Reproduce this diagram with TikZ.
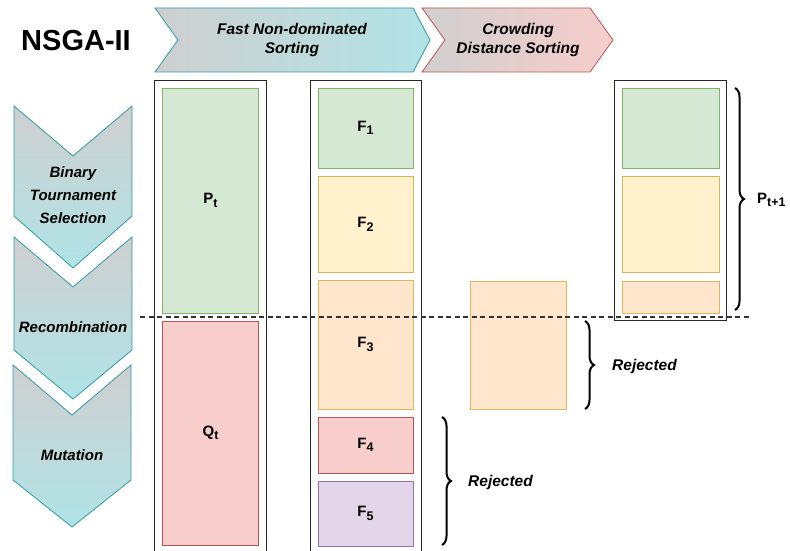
\documentclass[tikz,border=0pt]{standalone}
\usepackage{fontspec}
\setmainfont{Liberation Sans}
\usetikzlibrary{decorations.pathreplacing}
\definecolor{cgray}{HTML}{CFCFCF}
\definecolor{ccyan}{HTML}{B0E3E6}
\definecolor{cteal}{HTML}{2E9AA2}
\definecolor{cpink}{HTML}{F8CECC}
\definecolor{cred}{HTML}{B85450}
\definecolor{gfill}{HTML}{D5E8D4}
\definecolor{gline}{HTML}{82B366}
\definecolor{yfill}{HTML}{FFF2CC}
\definecolor{yline}{HTML}{D6B656}
\definecolor{ofill}{HTML}{FFE6CC}
\definecolor{oline}{HTML}{E3B55A}
\definecolor{rfill}{HTML}{F8CECC}
\definecolor{rline}{HTML}{B85450}
\definecolor{pfill}{HTML}{E1D5E7}
\definecolor{pline}{HTML}{9673A6}
\newcommand{\mysubscr}[1]{\raisebox{-3.5pt}{\fontsize{12.5}{12.5}\selectfont #1}}
\begin{document}
\begin{tikzpicture}[x=1pt,y=-1pt,
  chevlabel/.style={font=\fontsize{15.5}{19}\selectfont\bfseries\itshape, align=center, inner sep=0pt},
  hchevteal/.style={draw=cteal, line width=0.8pt, left color=cgray, right color=ccyan},
  hchevred/.style={draw=cred, line width=0.8pt, left color=cgray, right color=cpink},
  vchev/.style={draw=cteal, line width=0.8pt, top color=cgray, bottom color=ccyan},
  outerbox/.style={draw=black!85, line width=0.9pt, rectangle, inner sep=0pt, outer sep=0pt, fill=white},
  cell/.style={rectangle, line width=0.8pt, inner sep=0pt, outer sep=0pt, font=\fontsize{15}{18}\selectfont\bfseries},
  green/.style={cell, draw=gline, fill=gfill},
  yellow/.style={cell, draw=yline, fill=yfill},
  orange/.style={cell, draw=oline, fill=ofill},
  redc/.style={cell, draw=rline, fill=rfill},
  purple/.style={cell, draw=pline, fill=pfill},
  bracestyle/.style={decorate, decoration={brace, amplitude=9pt}, line width=2pt},
  rejlabel/.style={font=\fontsize{15.5}{19}\selectfont\bfseries\itshape, anchor=west, inner sep=0pt}
]
\useasboundingbox (0,0) rectangle (790,551);

% title
\node[font=\fontsize{29}{34}\selectfont\bfseries, inner sep=0pt] (title) at (76,41) {NSGA-II};

% top chevrons
\path[hchevteal] (155,8) -- (413,8) -- (430,40) -- (413,72) -- (155,72) -- (178,40) -- cycle;
\node[chevlabel] (fnds) at (292,40) {Fast Non-dominated\\Sorting};
\path[hchevred] (422,8) -- (590,8) -- (613,40) -- (590,72) -- (422,72) -- (445,40) -- cycle;
\node[chevlabel] (cds) at (518,40) {Crowding\\Distance Sorting};

% left chevrons
\path[vchev] (14,106) -- (73,156) -- (132,106) -- (132,216) -- (73,268) -- (14,216) -- cycle;
\node[chevlabel, font=\fontsize{15}{23}\selectfont\bfseries\itshape] (bts) at (73,195) {Binary\\Tournament\\Selection};
\path[vchev] (14,237) -- (73,287) -- (132,237) -- (132,350) -- (73,399) -- (14,350) -- cycle;
\node[chevlabel, font=\fontsize{15}{19}\selectfont\bfseries\itshape] (rec) at (73,327) {Recombination};
\path[vchev] (13,365) -- (72,415) -- (131,365) -- (131,480) -- (72,527) -- (13,480) -- cycle;
\node[chevlabel, font=\fontsize{15}{19}\selectfont\bfseries\itshape] (mut) at (72,455) {Mutation};

% outer boxes
\node[outerbox, minimum width=112pt, minimum height=478pt] (col1) at (210,319) {};
\node[outerbox, minimum width=111pt, minimum height=478pt] (col2) at (365.5,319) {};
\node[outerbox, minimum width=112pt, minimum height=240pt] (col3) at (670,200) {};

% column 1
\node[green, minimum width=96pt, minimum height=225pt] (pt) at (210.5,200.5) {P\mysubscr{t}};
\node[redc, minimum width=96pt, minimum height=224pt] (qt) at (210.5,433) {Q\mysubscr{t}};

% column 2
\node[green, minimum width=95pt, minimum height=80pt] (f1) at (365.5,128) {F\mysubscr{1}};
\node[yellow, minimum width=95pt, minimum height=96pt] (f2) at (365.5,224.5) {F\mysubscr{2}};
\node[orange, minimum width=95pt, minimum height=129pt] (f3) at (365.5,344.5) {F\mysubscr{3}};
\node[redc, minimum width=95pt, minimum height=56pt] (f4) at (365.5,445) {F\mysubscr{4}};
\node[purple, minimum width=95pt, minimum height=65pt] (f5) at (365.5,513.5) {F\mysubscr{5}};

% crowding column
\node[orange, minimum width=96pt, minimum height=128pt] (cr) at (518,345) {};

% result column
\node[green, minimum width=97pt, minimum height=80pt] (r1) at (670.5,128) {};
\node[yellow, minimum width=97pt, minimum height=96pt] (r2) at (670.5,224.5) {};
\node[orange, minimum width=97pt, minimum height=32pt] (r3) at (670.5,297) {};

% dashed cut line
\coordinate (dl1) at (140,317);
\coordinate (dl2) at (751,317);
\draw[black!80, line width=1.3pt, dash pattern=on 5pt off 3.5pt] (dl1) -- (dl2);

% braces
\coordinate (b1a) at (735,88);
\coordinate (b1b) at (735,310);
\draw[bracestyle] (b1a) -- (b1b);
\node[font=\fontsize{15}{18}\selectfont\bfseries, anchor=west, inner sep=0pt] (pt1) at (757,200) {P\mysubscr{t+1}};

\coordinate (b2a) at (585,321);
\coordinate (b2b) at (585,409);
\draw[bracestyle] (b2a) -- (b2b);
\node[rejlabel] (rej1) at (612,366) {Rejected};

\coordinate (b3a) at (442,417);
\coordinate (b3b) at (442,545);
\draw[bracestyle] (b3a) -- (b3b);
\node[rejlabel] (rej2) at (468,482) {Rejected};
\end{tikzpicture}
\end{document}
